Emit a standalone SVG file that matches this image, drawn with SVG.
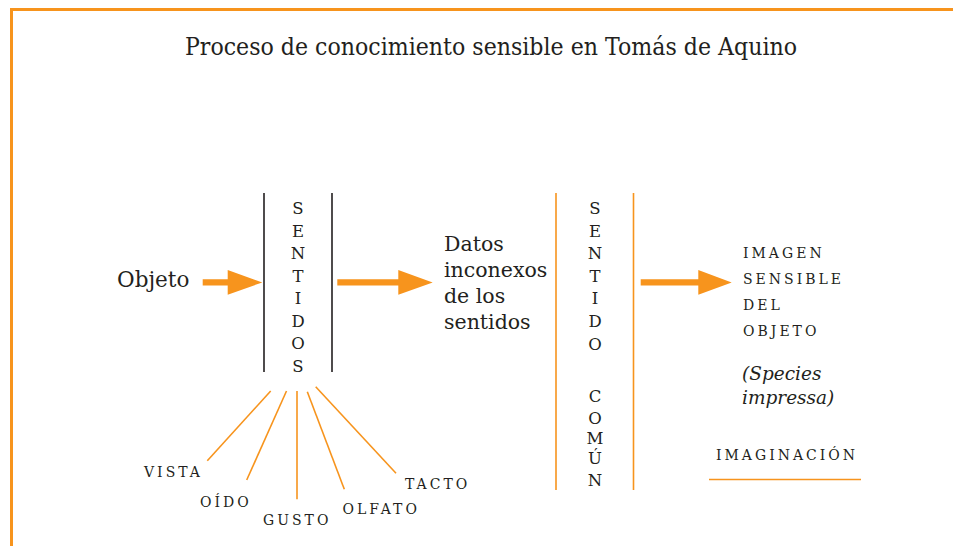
<svg xmlns="http://www.w3.org/2000/svg" width="953" height="546" viewBox="0 0 953 546">
<style>
  text{font-family:'DejaVu Serif','Noto Serif',serif;fill:#231F20}
  .title{font-size:24px}
  .body{font-size:20.5px}
  .obj{font-size:21.5px}
  .ital{font-size:18.5px;font-style:italic}
  .caps{font-size:14px;letter-spacing:3px}
  .vert{font-size:16.5px;text-anchor:middle}
  .black{stroke:#231F20;stroke-width:1.6;fill:none}
  .orange{stroke:#F7941D;stroke-width:1.6;fill:none}
  .arrow{fill:#F7941D;stroke:none}
</style>
<rect width="953" height="546" fill="#ffffff"/>
<g id="frame">
  <line x1="10" y1="9.5" x2="953" y2="9.5" stroke="#F7941D" stroke-width="3"/>
  <line x1="11.5" y1="8" x2="11.5" y2="546" stroke="#F7941D" stroke-width="3"/>
</g>
<g id="title">
  <text class="title" x="185" y="55" textLength="612" lengthAdjust="spacingAndGlyphs">Proceso de conocimiento sensible en Tomás de Aquino</text>
</g>
<g id="objeto">
  <text class="obj" x="117" y="287">Objeto</text>
</g>
<g id="sentidos">
  <line class="black" x1="264" y1="193" x2="264" y2="372"/>
  <line class="black" x1="332" y1="193" x2="332" y2="372"/>
  <text class="vert" x="298" y="214">S</text>
  <text class="vert" x="298" y="236.5">E</text>
  <text class="vert" x="298" y="259">N</text>
  <text class="vert" x="298" y="281.5">T</text>
  <text class="vert" x="298" y="304">I</text>
  <text class="vert" x="298" y="326.5">D</text>
  <text class="vert" x="298" y="349">O</text>
  <text class="vert" x="298" y="372">S</text>
</g>
<g id="datos">
  <text class="body" x="444" y="251">Datos</text>
  <text class="body" x="444" y="277">inconexos</text>
  <text class="body" x="444" y="302.5">de los</text>
  <text class="body" x="444" y="328.5">sentidos</text>
</g>
<g id="sentido-comun">
  <line class="orange" x1="556" y1="193" x2="556" y2="490"/>
  <line class="orange" x1="633.5" y1="193" x2="633.5" y2="490"/>
  <text class="vert" x="595" y="214">S</text>
  <text class="vert" x="595" y="236.5">E</text>
  <text class="vert" x="595" y="259">N</text>
  <text class="vert" x="595" y="281.5">T</text>
  <text class="vert" x="595" y="304">I</text>
  <text class="vert" x="595" y="326.5">D</text>
  <text class="vert" x="595" y="349.5">O</text>
  <text class="vert" x="595" y="401.5">C</text>
  <text class="vert" x="595" y="423.5">O</text>
  <text class="vert" x="595" y="443.5">M</text>
  <text class="vert" x="595" y="464">Ú</text>
  <text class="vert" x="595" y="486">N</text>
</g>
<g id="imagen">
  <text class="caps" x="743" y="258">IMAGEN</text>
  <text class="caps" x="743" y="284">SENSIBLE</text>
  <text class="caps" x="743" y="310">DEL</text>
  <text class="caps" x="743" y="336">OBJETO</text>
  <text class="ital" x="742" y="379.5">(Species</text>
  <text class="ital" x="742" y="403.5">impressa)</text>
</g>
<g id="imaginacion">
  <text class="caps" x="716" y="460">IMAGINACIÓN</text>
  <line class="orange" x1="709" y1="479.5" x2="861" y2="479.5"/>
</g>
<g id="vista"><text class="caps" x="144" y="477">VISTA</text></g>
<g id="oido"><text class="caps" x="200" y="507">OÍDO</text></g>
<g id="gusto"><text class="caps" x="263" y="524.5">GUSTO</text></g>
<g id="olfato"><text class="caps" x="342.5" y="513.5">OLFATO</text></g>
<g id="tacto"><text class="caps" x="405" y="488.5">TACTO</text></g>
<g id="connectors">
  <path class="arrow" d="M202.7,279.3 H227.7 V270 L262.3,282.4 L227.7,294.8 V285.6 H202.7 Z"/>
  <path class="arrow" d="M337.3,279.3 H398.3 V270 L432.7,282.4 L398.3,294.8 V285.6 H337.3 Z"/>
  <path class="arrow" d="M640.7,279.3 H698.3 V270 L731.7,282.4 L698.3,294.8 V285.6 H640.7 Z"/>
  <line class="orange" x1="270.7" y1="391" x2="207.3" y2="460.7"/>
  <line class="orange" x1="286.5" y1="391" x2="246.7" y2="480"/>
  <line class="orange" x1="297" y1="391" x2="297" y2="499.3"/>
  <line class="orange" x1="307.3" y1="391.7" x2="344.3" y2="489.3"/>
  <line class="orange" x1="315.7" y1="386.7" x2="396" y2="473.3"/>
</g>
</svg>
